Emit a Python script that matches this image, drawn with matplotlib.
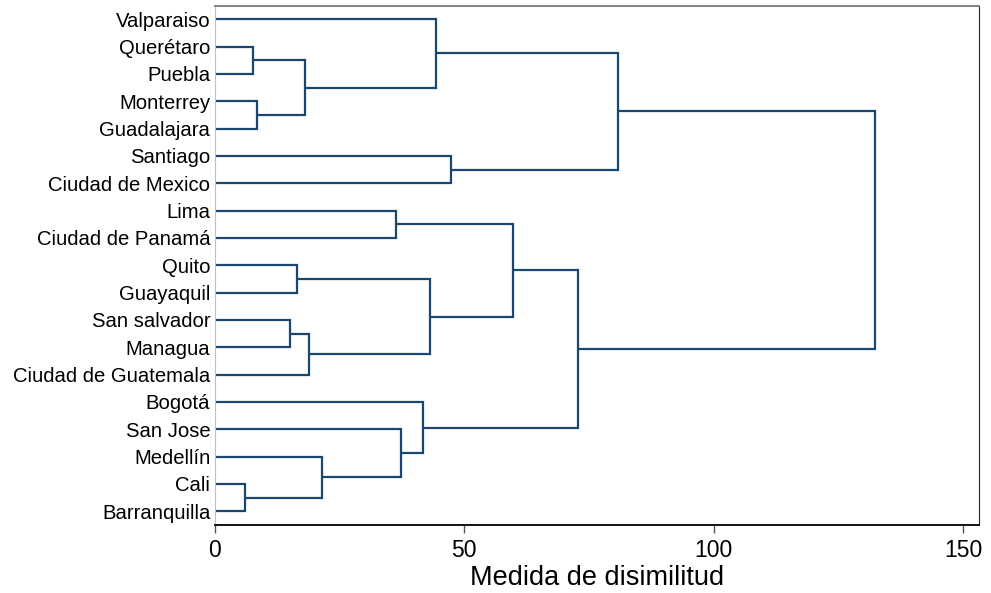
import numpy as np
import matplotlib
matplotlib.use("Agg")
from matplotlib import pyplot as plt

plt.rcParams['font.family'] = ['Liberation Sans', 'DejaVu Sans']

# leaves, top to bottom
cities = ['Valparaiso', 'Querétaro', 'Puebla', 'Monterrey', 'Guadalajara',
          'Santiago', 'Ciudad de Mexico', 'Lima', 'Ciudad de Panamá', 'Quito',
          'Guayaquil', 'San salvador', 'Managua', 'Ciudad de Guatemala',
          'Bogotá', 'San Jose', 'Medellín', 'Cali', 'Barranquilla']

# merges: node ids 0..18 are leaves, each merge creates node 19, 20, ...
merge_a = [17, 1, 3, 11, 9, 20, 22, 16, 7, 15, 14, 23, 0, 5, 27, 33, 31, 35]
merge_b = [18, 2, 4, 12, 10, 21, 13, 19, 8, 26, 28, 25, 24, 6, 30, 29, 32, 34]
heights = [6.1, 7.8, 8.6, 15.1, 16.5, 18.2, 19.0, 21.5, 36.4, 37.4, 41.8,
           43.2, 44.4, 47.4, 59.8, 72.8, 80.8, 132.3]

col = '#1a476f'
n = len(cities)

fig = plt.figure(figsize=(9.91, 5.93), dpi=100)
ax = fig.add_axes([214.5/991, 68/593, 764.5/991, 519.5/593])

# y pos and height for every node
ypos = [n - 1 - i for i in range(n)]
hgt = [0.0] * n
for a, b, h in zip(merge_a, merge_b, heights):
    ya, yb = ypos[a], ypos[b]
    ax.plot([hgt[a], h, h, hgt[b]], [ya, ya, yb, yb], color=col, lw=1.6,
            solid_capstyle='butt', solid_joinstyle='miter')
    ypos.append((ya + yb) / 2)
    hgt.append(h)

ax.set_xlim(0, 153.2)
ax.set_ylim(-0.5, n - 0.5)
ax.set_xticks([0, 50, 100, 150])
ax.tick_params(axis='x', labelsize=16.5, length=6, width=1, color='#555555', pad=4)
ax.set_yticks(range(n))
ax.set_yticklabels(cities[::-1], fontsize=14.6)
ax.tick_params(axis='y', length=0, pad=3)
ax.set_xlabel('Medida de disimilitud', fontsize=19.5, labelpad=2)

ax.spines['left'].set_color('#c0c0c0')
ax.spines['top'].set_color('#7a7a7a')
ax.spines['right'].set_color('#222222')
ax.spines['bottom'].set_color('black')
ax.spines['bottom'].set_linewidth(1.3)
ax.spines['top'].set_linewidth(1.3)

plt.savefig('out.png', dpi=100)
